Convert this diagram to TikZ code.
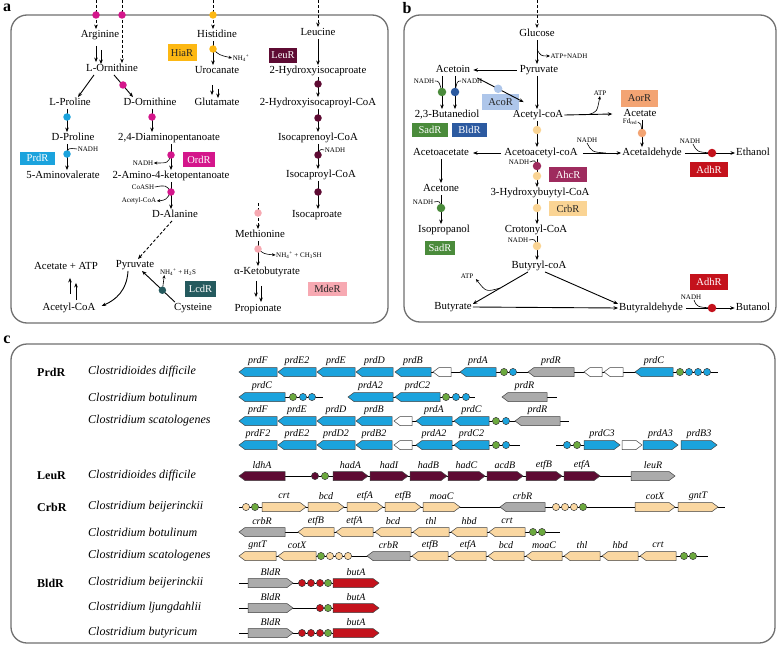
\documentclass[tikz,border=0pt]{standalone}
\usepackage{fontspec}
\setmainfont{Liberation Serif}
\usetikzlibrary{arrows.meta,calc}
\definecolor{cBlue}{HTML}{1BA3DD}
\definecolor{cMag}{HTML}{D4168B}
\definecolor{cYel}{HTML}{FDB813}
\definecolor{cLeu}{HTML}{5E0B33}
\definecolor{cTeal}{HTML}{255A5E}
\definecolor{cPink}{HTML}{F7A9B2}
\definecolor{cAco}{HTML}{AEC6EA}
\definecolor{cSad}{HTML}{4A8B3B}
\definecolor{cBld}{HTML}{2C5AA0}
\definecolor{cAor}{HTML}{F3A473}
\definecolor{cAdh}{HTML}{C4121C}
\definecolor{cAhc}{HTML}{9E2B5E}
\definecolor{cCrb}{HTML}{FAD494}
\definecolor{cGreen}{HTML}{6CA93E}
\definecolor{cGrey}{HTML}{ABABAB}
\definecolor{cTan}{HTML}{FAD7A1}
\definecolor{cPanel}{HTML}{707070}
\tikzset{
 lab/.style={font=\fontsize{10.8}{12}\selectfont, inner sep=1pt, text height=7.5pt, text depth=2pt},
 sml/.style={font=\fontsize{7}{8}\selectfont, inner sep=0.5pt},
 dotn/.style={circle, fill=#1, minimum size=7.5pt, inner sep=0pt},
 dotb/.style={circle, fill=#1, minimum size=8.5pt, inner sep=0pt},
 arr/.style={-{Stealth[length=4.5pt,width=3.6pt]}, line width=0.9pt},
 sarr/.style={-{Stealth[length=3.5pt,width=3pt]}, line width=0.6pt},
 hk/.style={line width=0.6pt},
 dsh/.style={densely dashed},
 regbox/.style={fill=#1, inner sep=0pt, font=\fontsize{10.5}{12}\selectfont, text=white},
 panel/.style={draw=cPanel, line width=1.3pt, rounded corners=16pt},
 plab/.style={font=\fontsize{16}{18}\bfseries\selectfont, inner sep=0pt},
 gene/.style={draw=black!75, line width=0.5pt},
 glab/.style={font=\fontsize{10}{11}\itshape\selectfont, inner sep=0pt},
 spec/.style={font=\fontsize{12}{13}\itshape\selectfont, anchor=west, inner sep=0pt},
 grp/.style={font=\fontsize{12}{13}\bfseries\selectfont, anchor=west, inner sep=0pt},
 bb/.style={line width=0.7pt},
}
\newcount\gcnt
\newcommand{\geneR}[5]{\global\advance\gcnt by 1\relax
  \draw[gene,fill=#4] (#1,#3-4.5) -- ({#2-6},#3-4.5) -- (#2,#3) -- ({#2-6},#3+4.5) -- (#1,#3+4.5) -- cycle;
  \node[glab] (gl\the\gcnt) at ({(#1+#2)/2},#3-11) {#5};}
\newcommand{\geneL}[5]{\global\advance\gcnt by 1\relax
  \draw[gene,fill=#4] (#2,#3-4.5) -- ({#1+6},#3-4.5) -- (#1,#3) -- ({#1+6},#3+4.5) -- (#2,#3+4.5) -- cycle;
  \node[glab] (gl\the\gcnt) at ({(#1+#2)/2},#3-11) {#5};}
\newcommand{\gcirc}[3]{\draw[gene,fill=#3] (#1,#2) circle[radius=3.6pt];}
\begin{document}
\begin{tikzpicture}[x=1pt,y=-1pt]
\useasboundingbox (0,0) rectangle (778,650);
\fill[white] (0,0) rectangle (778,650);
% panels
\draw[panel] (11,15) rectangle (388,323);
\draw[panel] (404,15) rectangle (776,322);
\draw[panel] (11,344) rectangle (775,643);
\node[plab] (la) at (7,8) {a};
\node[plab] (lb) at (407,8) {b};
\node[plab] (lc) at (7,340) {c};

% ================= panel a =================
\node[lab] (arg) at (100,35) {Arginine};
\node[lab] (lorn) at (112,69) {L-Ornithine};
\node[lab] (lpro) at (70,103) {L-Proline};
\node[lab] (dorn) at (150,103) {D-Ornithine};
\node[lab] (dpro) at (73,138) {D-Proline};
\node[lab] (dap) at (169,138) {2,4-Diaminopentanoate};
\node[lab] (amv) at (63,176) {5-Aminovalerate};
\node[lab] (akp) at (171,176) {2-Amino-4-ketopentanoate};
\node[lab] (dala) at (175,215) {D-Alanine};
\node[lab] (pyr) at (135,265) {Pyruvate};
\node[lab] (acatp) at (66,267) {Acetate + ATP};
\node[lab] (acoa) at (69,308) {Acetyl-CoA};
\node[lab] (cys) at (193,308) {Cysteine};
\node[lab] (his) at (217,35) {Histidine};
\node[lab] (uro) at (217,71) {Urocanate};
\node[lab] (glu) at (217,103) {Glutamate};
\node[lab] (leu) at (318,33) {Leucine};
\node[lab] (hic) at (318,71) {2-Hydroxyisocaproate};
\node[lab] (hicoa) at (318,103) {2-Hydroxyisocaproyl-CoA};
\node[lab] (icr) at (318,138) {Isocaprenoyl-CoA};
\node[lab] (ica) at (321,175) {Isocaproyl-CoA};
\node[lab] (icp) at (317,215) {Isocaproate};
\node[lab] (met) at (260,235) {Methionine};
\node[lab] (akb) at (267,272) {α-Ketobutyrate};
\node[lab] (prop) at (258,309) {Propionate};

\node[regbox=cBlue, minimum width=35pt, minimum height=13pt] (rprd) at (37.5,158) {PrdR};
\node[regbox=cMag, minimum width=32pt, minimum height=15pt] (rord) at (199,159.5) {OrdR};
\node[regbox=cYel, minimum width=29pt, minimum height=17pt, text=black!85] (rhia) at (182,53) {HiaR};
\node[regbox=cLeu, minimum width=28pt, minimum height=15pt] (rleu) at (283,55.5) {LeuR};
\node[regbox=cTeal, minimum width=31pt, minimum height=16pt] (rlcd) at (200.5,289) {LcdR};
\node[regbox=cPink, minimum width=39pt, minimum height=14pt, text=black!85] (rmde) at (327.5,289) {MdeR};

\coordinate (ma1) at (96,15);
\coordinate (ma2) at (122,15);
\coordinate (ma3) at (123,85);
\coordinate (ma4) at (152,117);
\coordinate (ma5) at (171,155);
\coordinate (ma6) at (171,192);
\coordinate (cy1) at (67,117);
\coordinate (cy2) at (67,154);
\coordinate (ye1) at (213,15);
\coordinate (ye2) at (213,49);
\coordinate (lu1) at (318,84);
\coordinate (lu2) at (318,118);
\coordinate (lu3) at (318,155);
\coordinate (lu4) at (318,192);
\coordinate (pk1) at (258,213);
\coordinate (pk2) at (258,249);
\coordinate (topA1) at (96,0);
\coordinate (topA2) at (122,0);
\coordinate (topH) at (213,0);
\coordinate (topL) at (318,0);
\coordinate (mtop) at (258,203);

\draw[arr,dsh] (topA1) -- (arg.north -| topA1);
\draw[arr,dsh] (topA2) -- (lorn.north -| topA2);
\coordinate (aa1) at ([xshift=-4pt,yshift=-5pt]arg.south);
\coordinate (aa2) at ([xshift=1pt,yshift=-9pt]arg.south);
\coordinate (ab1) at (aa1 |- lorn.north);
\coordinate (ab2) at (aa2 |- lorn.north);
\draw[arr] (aa1) -- ([yshift=1pt]ab1);
\draw[arr] (aa2) -- ([yshift=-1pt]ab2);
\draw[arr] ([xshift=-18pt]lorn.south) -- ([xshift=8pt]lpro.north);
\draw[arr] ([xshift=2pt]lorn.south) -- ([xshift=-17pt]dorn.north);
\draw[arr] (dorn.south -| ma4) -- (dap.north -| ma4);
\draw[arr] (lpro.south -| cy1) -- (dpro.north -| cy1);
\draw[arr] (dpro.south -| cy2) -- (amv.north -| cy2);
\node[sml] (nadh1) at (88,149) {NADH};
\draw[hk] (cy2) .. controls (68,148) .. (nadh1.west);
\draw[arr] (dap.south -| ma5) -- (akp.north -| ma5);
\node[sml] (nadh2) at (143,163) {NADH};
\draw[sarr] (ma5) .. controls (168,163) .. (nadh2.east);
\draw[arr] (akp.south -| ma6) -- (dala.north -| ma6);
\node[sml] (coash) at (143,187) {CoASH};
\draw[hk] (coash.east) .. controls (166,185) .. (ma6);
\node[sml] (acsm) at (139,201) {Acetyl-CoA};
\draw[sarr] (ma6) .. controls (166,200) .. (acsm.east);
\draw[arr,dsh] ([xshift=-3pt]dala.south) -- ([xshift=3pt]pyr.north);
\draw[arr] ([xshift=-7pt]pyr.south) .. controls (127,290) and (116,300) .. ([xshift=5pt,yshift=2pt]acoa.east);
\draw[arr] ([xshift=1pt,yshift=8pt]acoa.north) -- ([xshift=4pt,yshift=-5pt]acatp.south);
\draw[arr] ([xshift=7pt,yshift=2pt]acoa.north) -- ([xshift=10pt,yshift=-10pt]acatp.south);
\coordinate (cysS) at ([xshift=2pt]cys.north west);
\coordinate (pyrE) at ([xshift=7pt]pyr.south);
\draw[arr] (cysS) -- (pyrE);
\coordinate (tc1) at ($(cysS)!0.38!(pyrE)$);
\node[sml] (nh2s) at (178,272) {NH\textsubscript{4}\textsuperscript{+} + H\textsubscript{2}S};
\draw[sarr] (tc1) .. controls (163,284) .. ([xshift=5pt,yshift=1pt]nh2s.south west);
\draw[arr,dsh] (topH) -- (his.north -| topH);
\draw[arr] (his.south -| ye2) -- (uro.north -| ye2);
\node[sml] (nh4a) at (241,58) {NH\textsubscript{4}\textsuperscript{+}};
\draw[sarr] (ye2) .. controls (219,55) .. (nh4a.west);
\draw[arr] ([xshift=-5pt,yshift=-8pt]uro.south) -- ([xshift=-5pt,yshift=2pt]glu.north);
\draw[arr] ([xshift=1pt,yshift=-12pt]uro.south) -- ([xshift=1pt,yshift=-1pt]glu.north);
\draw[arr,dsh] (topL) -- (leu.north -| topL);
\draw[arr] (leu.south) -- (leu.south |- hic.north);
\draw[arr] (hic.south -| lu1) -- (hicoa.north -| lu1);
\draw[arr] (hicoa.south -| lu2) -- (icr.north -| lu2);
\draw[arr] (icr.south -| lu3) -- (ica.north -| lu3);
\node[sml] (nadh3) at (335,150) {NADH};
\draw[hk] (lu3) .. controls (320,149) .. (nadh3.west);
\draw[arr] (ica.south -| lu4) -- (icp.north -| lu4);
\draw[arr,dsh] (mtop) -- (met.north -| mtop);
\draw[arr] (met.south -| pk2) -- (akb.north -| pk2);
\node[sml] (nhch) at (299,255) {NH\textsubscript{4}\textsuperscript{+} + CH\textsubscript{3}SH};
\draw[sarr] (pk2) .. controls (264,254) .. (nhch.west);
\draw[arr] ([xshift=-11pt,yshift=-3pt]akb.south) -- ([xshift=-2pt,yshift=6pt]prop.north);
\draw[arr] ([xshift=-6pt,yshift=-8pt]akb.south) -- ([xshift=3pt,yshift=1pt]prop.north);

\foreach \p in {ma1,ma2,ma3,ma4,ma5,ma6} \node[dotn=cMag] (d\p) at (\p) {};
\foreach \p in {cy1,cy2} \node[dotn=cBlue] (d\p) at (\p) {};
\foreach \p in {ye1,ye2} \node[dotn=cYel] (d\p) at (\p) {};
\foreach \p in {lu1,lu2,lu3,lu4} \node[dotn=cLeu] (d\p) at (\p) {};
\foreach \p in {pk1,pk2} \node[dotn=cPink] (d\p) at (\p) {};
\node[dotn=cTeal] (dtc1) at (tc1) {};

% ================= panel b =================
\node[lab] (glc) at (537,34) {Glucose};
\node[lab] (pyrb) at (539,70) {Pyruvate};
\node[lab] (acetoin) at (453,70) {Acetoin};
\node[lab] (bd) at (447,115) {2,3-Butanediol};
\node[lab] (accoa) at (538,115) {Acetyl-coA};
\node[lab] (acacoa) at (541,153) {Acetoacetyl-coA};
\node[lab] (acac) at (441,153) {Acetoacetate};
\node[lab] (acetone) at (441,189) {Acetone};
\node[lab] (ipa) at (444,230) {Isopropanol};
\node[lab] (hb) at (540,193) {3-Hydroxybuytyl-CoA};
\node[lab] (crot) at (536,230) {Crotonyl-CoA};
\node[lab] (butcoa) at (539,266) {Butyryl-coA};
\node[lab] (buty) at (453,307) {Butyrate};
\node[lab] (butald) at (651,308) {Butyraldehyde};
\node[lab] (butol) at (753,308) {Butanol};
\node[lab] (acet) at (640,114) {Acetate};
\node[lab] (acald) at (652,153) {Acetaldehyde};
\node[lab] (etoh) at (753,153) {Ethanol};

\node[regbox=cAco, minimum width=37pt, minimum height=16pt, text=black!85] (raco) at (500.5,102) {AcoR};
\node[regbox=cSad, minimum width=36pt, minimum height=14pt] (rsad1) at (430,130) {SadR};
\node[regbox=cBld, minimum width=35pt, minimum height=14pt] (rbld) at (469.5,130) {BldR};
\node[regbox=cSad, minimum width=30pt, minimum height=14pt] (rsad2) at (440,248) {SadR};
\node[regbox=cAhc, minimum width=38pt, minimum height=15pt] (rahc) at (568,174.5) {AhcR};
\node[regbox=cCrb, minimum width=38pt, minimum height=15pt, text=black!85] (rcrb) at (568,208.5) {CrbR};
\node[regbox=cAor, minimum width=37pt, minimum height=17pt, text=black!85] (raor) at (639.5,98.5) {AorR};
\node[regbox=cAdh, minimum width=38pt, minimum height=15pt] (radh1) at (709,169.5) {AdhR};
\node[regbox=cAdh, minimum width=38pt, minimum height=16pt] (radh2) at (709,282) {AdhR};

\coordinate (xb) at (537,0);
\coordinate (topG) at (537,0);
\coordinate (gr1) at (442,92);
\coordinate (bl1) at (455,92);
\coordinate (tn1) at (537,130);
\coordinate (mr1) at (537,166);
\coordinate (tn2) at (537,176);
\coordinate (tn3) at (537,208);
\coordinate (tn4) at (537,246);
\coordinate (gr2) at (441,208);
\coordinate (sa1) at (642,133);
\coordinate (rd1) at (712,153);
\coordinate (rd2) at (712,308);

\draw[arr,dsh] (topG) -- (glc.north -| xb);
\draw[arr] (glc.south -| xb) -- (pyrb.north -| xb);
\node[sml] (atpn) at (569,56) {ATP+NADH};
\draw[sarr] ($(glc.south -| xb)!0.4!(pyrb.north -| xb)$) .. controls (541,56) .. (atpn.west);
\draw[arr] ([xshift=-2pt]pyrb.west) -- ([xshift=2pt]acetoin.east);
\draw[arr] (pyrb.south -| xb) -- (accoa.north -| xb);
\coordinate (acS) at ([xshift=6pt,yshift=-2pt]acetoin.south east);
\coordinate (acE) at ([xshift=12pt,yshift=7pt]accoa.north west);
\draw[arr] (acS) -- (acE);
\coordinate (ab1) at ($(acS)!0.45!(acE)$);
\draw[arr] (acetoin.south -| gr1) -- (bd.north -| gr1);
\draw[arr] (acetoin.south -| bl1) -- (bd.north -| bl1);
\node[sml] (nl) at (424,81) {NADH};
\draw[hk] (nl.east) .. controls (439,81) .. (gr1);
\node[sml] (nr) at (472,81) {NADH};
\draw[hk] (nr.west) .. controls (457,81) .. (bl1);
\draw[arr] (accoa.south -| xb) -- (acacoa.north -| xb);
\draw[arr] ([xshift=-2pt]acacoa.west) -- ([xshift=3pt]acac.east);
\draw[arr] (acac.south) -- (acetone.north);
\draw[arr] (acetone.south -| gr2) -- (ipa.north -| gr2);
\node[sml] (nac1) at (423,202) {NADH};
\draw[hk] (nac1.east) .. controls (440,201) .. (gr2);
\draw[arr] (acacoa.south -| xb) -- (hb.north -| xb);
\node[sml] (nhb) at (519,162) {NADH};
\draw[hk] (nhb.east) .. controls (535,160) .. (mr1);
\draw[arr] (hb.south -| xb) -- (crot.north -| xb);
\draw[arr] (crot.south -| xb) -- (butcoa.north -| xb);
\node[sml] (ncr) at (518,240) {NADH};
\draw[hk] (ncr.east) .. controls (535,239) .. (tn4);
\coordinate (bS) at ([xshift=-11pt]butcoa.south);
\coordinate (bE) at ([yshift=3pt]buty.east);
\draw[arr] (bS) -- (bE);
\node[sml] (atpb) at (467,276) {ATP};
\draw[sarr] ($(bS)!0.5!(bE)$) .. controls (486,292) .. ([xshift=2pt]atpb.south east);
\draw[arr] (buty.east) -- (butald.west);
\draw[arr] ([xshift=6pt]butcoa.south) -- ([yshift=4pt]butald.west);
\draw[arr] ([xshift=2pt]butald.east) -- (butol.west);
\node[sml] (nbu) at (691,297) {NADH};
\draw[hk] ([xshift=3pt]nbu.south) .. controls (697,307) .. (rd2);
\draw[arr] (accoa.east) -- ([xshift=-10pt]acet.west);
\node[sml] (atpc) at (600,93) {ATP};
\draw[sarr] ($(accoa.east)!0.5!([xshift=-10pt]acet.west)$) .. controls (597,112) .. (atpc.south);
\draw[arr] (acet.south -| sa1) -- (acald.north -| sa1);
\node[sml] (fdr) at (630,122) {Fd\textsubscript{red}};
\draw[hk] (fdr.east) .. controls (641,123) .. (sa1);
\coordinate (aaS) at ([xshift=4pt]acacoa.east);
\draw[arr] (aaS) -- (acald.west);
\coordinate (aaM) at ($(aaS)!0.6!(acald.west)$);
\node[sml] (nac) at (587,140) {NADH};
\draw[hk] (nac.south) .. controls (592,152) .. (aaM);
\draw[arr] ([xshift=2pt]acald.east) -- (etoh.west);
\node[sml] (net) at (690,141) {NADH};
\draw[hk] ([xshift=3pt]net.south) .. controls (697,152) .. (rd1);

\node[dotb=cAco] (dab1) at (ab1) {};
\node[dotb=cSad] (dgr1) at (gr1) {};
\node[dotb=cBld] (dbl1) at (bl1) {};
\node[dotb=cSad] (dgr2) at (gr2) {};
\node[dotb=cCrb] (dtn1) at (tn1) {};
\node[dotb=cCrb] (dtn2) at (tn2) {};
\node[dotb=cAhc] (dmr1) at (mr1) {};
\node[dotb=cCrb] (dtn3) at (tn3) {};
\node[dotb=cCrb] (dtn4) at (tn4) {};
\node[dotb=cAor] (dsa1) at (sa1) {};
\node[dotb=cAdh] (drd1) at (rd1) {};
\node[dotb=cAdh] (drd2) at (rd2) {};

% ================= panel c =================
\node[grp] (gprd) at (37,372) {PrdR};
\node[grp] (gleu) at (37,476) {LeuR};
\node[grp] (gcrb) at (37,507) {CrbR};
\node[grp] (gbld) at (37,583) {BldR};
\node[spec] (s1) at (88,372) {Clostridioides difficile};
\node[spec] (s2) at (88,397) {Clostridium botulinum};
\node[spec] (s3) at (88,421) {Clostridium scatologenes};
\node[spec] (s4) at (88,476) {Clostridioides difficile};
\node[spec] (s5) at (88,507) {Clostridium beijerinckii};
\node[spec] (s6) at (88,532) {Clostridium botulinum};
\node[spec] (s7) at (88,556) {Clostridium scatologenes};
\node[spec] (s8) at (88,583) {Clostridium beijerinckii};
\node[spec] (s9) at (88,608) {Clostridium ljungdahlii};
\node[spec] (s10) at (88,633) {Clostridium butyricum};

% PrdR row 1
\draw[bb] (430,372) -- (718,372);
\geneL{239}{277}{372}{cBlue}{prdF}
\geneL{278}{316}{372}{cBlue}{prdE2}
\geneL{317}{355}{372}{cBlue}{prdE}
\geneL{356}{393}{372}{cBlue}{prdD}
\geneL{395}{431}{372}{cBlue}{prdB}
\geneL{433}{451}{372}{white}{}
\geneL{460}{496}{372}{cBlue}{prdA}
\gcirc{504}{372}{cGreen}\gcirc{513}{372}{cBlue}
\geneL{528}{574}{372}{cGrey}{prdR}
\geneL{584}{602}{372}{white}{}
\geneL{604}{623}{372}{white}{}
\geneL{635}{673}{372}{cBlue}{prdC}
\gcirc{680}{372}{cGreen}\gcirc{689}{372}{cBlue}\gcirc{698}{372}{cBlue}\gcirc{707}{372}{cBlue}
% PrdR row 2
\draw[bb] (260,397) -- (323,397);
\geneL{239}{285}{397}{cBlue}{prdC}
\gcirc{293}{397}{cGreen}\gcirc{303}{397}{cBlue}\gcirc{312}{397}{cBlue}
\draw[bb] (370,397) -- (475,397);
\geneL{348}{393}{397}{cBlue}{prdA2}
\geneL{395}{440}{397}{cBlue}{prdC2}
\gcirc{446}{397}{cGreen}\gcirc{456}{397}{cBlue}\gcirc{466}{397}{cBlue}
\draw[bb] (520,397) -- (557,397);
\geneL{502}{547}{397}{cGrey}{prdR}
% PrdR row 3
\draw[bb] (400,421) -- (569,421);
\geneL{239}{277}{421}{cBlue}{prdF}
\geneL{278}{316}{421}{cBlue}{prdE}
\geneL{317}{355}{421}{cBlue}{prdD}
\geneL{356}{392}{421}{cBlue}{prdB}
\geneL{394}{412}{421}{white}{}
\geneL{416}{452}{421}{cBlue}{prdA}
\geneL{454}{489}{421}{cBlue}{prdC}
\gcirc{496}{421}{cGreen}\gcirc{506}{421}{cBlue}
\geneL{515}{560}{421}{cGrey}{prdR}
% PrdR row 4
\draw[bb] (400,445) -- (520,445);
\geneL{239}{277}{445}{cBlue}{prdF2}
\geneL{278}{316}{445}{cBlue}{prdE2}
\geneL{317}{355}{445}{cBlue}{prdD2}
\geneL{356}{392}{445}{cBlue}{prdB2}
\geneL{394}{412}{445}{white}{}
\geneL{416}{452}{445}{cBlue}{prdA2}
\geneL{454}{489}{445}{cBlue}{prdC2}
\gcirc{496}{445}{cGreen}\gcirc{506}{445}{cBlue}
\draw[bb] (556,445) -- (590,445);
\gcirc{567}{445}{cBlue}\gcirc{577}{445}{cGreen}
\geneR{584}{620}{445}{cBlue}{prdC3}
\geneR{622}{642}{445}{white}{}
\geneR{643}{678}{445}{cBlue}{prdA3}
\geneR{681}{717}{445}{cBlue}{prdB3}
% LeuR
\draw[bb] (260,476) -- (640,476);
\geneL{239}{285}{476}{cLeu}{ldhA}
\gcirc{315}{476}{cLeu}\gcirc{325}{476}{cGreen}
\geneR{333}{368}{476}{cLeu}{hadA}
\geneR{370}{408}{476}{cLeu}{hadI}
\geneR{410}{447}{476}{cLeu}{hadB}
\geneR{448}{485}{476}{cLeu}{hadC}
\geneR{487}{523}{476}{cLeu}{acdB}
\geneR{526}{562}{476}{cLeu}{etfB}
\geneR{564}{600}{476}{cLeu}{etfA}
\geneR{631}{675}{476}{cGrey}{leuR}
% CrbR row 1
\draw[bb] (239,507) -- (725,507);
\gcirc{246}{507}{cTan}\gcirc{255}{507}{cGreen}
\geneR{262}{306}{507}{cTan}{crt}
\geneR{308}{344}{507}{cTan}{bcd}
\geneR{347}{383}{507}{cTan}{etfA}
\geneR{385}{421}{507}{cTan}{etfB}
\geneR{423}{460}{507}{cTan}{moaC}
\geneL{500}{545}{507}{cGrey}{crbR}
\gcirc{556}{507}{cTan}\gcirc{565}{507}{cTan}\gcirc{574}{507}{cTan}\gcirc{583}{507}{cGreen}
\geneR{635}{675}{507}{cTan}{cotX}
\geneR{678}{718}{507}{cTan}{gntT}
% CrbR row 2
\draw[bb] (260,532) -- (560,532);
\geneL{239}{285}{532}{cGrey}{crbR}
\geneL{298}{334}{532}{cTan}{etfB}
\geneL{336}{373}{532}{cTan}{etfA}
\geneL{375}{411}{532}{cTan}{bcd}
\geneL{413}{449}{532}{cTan}{thl}
\geneL{451}{487}{532}{cTan}{hbd}
\geneL{489}{525}{532}{cTan}{crt}
\gcirc{533}{532}{cGreen}\gcirc{542}{532}{cGreen}
% CrbR row 3
\draw[bb] (260,556) -- (708,556);
\geneL{239}{276}{556}{cTan}{gntT}
\geneL{278}{316}{556}{cTan}{cotX}
\gcirc{321}{556}{cGreen}\gcirc{330}{556}{cTan}\gcirc{339}{556}{cTan}\gcirc{348}{556}{cTan}
\geneL{367}{410}{556}{cGrey}{crbR}
\geneL{412}{448}{556}{cTan}{etfB}
\geneL{450}{486}{556}{cTan}{etfA}
\geneL{488}{524}{556}{cTan}{bcd}
\geneL{526}{562}{556}{cTan}{moaC}
\geneL{564}{600}{556}{cTan}{thl}
\geneL{602}{638}{556}{cTan}{hbd}
\geneL{640}{676}{556}{cTan}{crt}
\gcirc{684}{556}{cGreen}\gcirc{693}{556}{cGreen}
% BldR rows
\draw[bb] (239,583) -- (335,583);
\geneR{248}{293}{583}{cGrey}{BldR}
\gcirc{302}{583}{cAdh}\gcirc{311}{583}{cAdh}\gcirc{320}{583}{cAdh}\gcirc{328}{583}{cGreen}
\geneR{333}{379}{583}{cAdh}{butA}
\draw[bb] (239,608) -- (335,608);
\geneR{248}{293}{608}{cGrey}{BldR}
\gcirc{320}{608}{cAdh}\gcirc{328}{608}{cGreen}
\geneR{333}{379}{608}{cAdh}{butA}
\draw[bb] (239,633) -- (335,633);
\geneR{248}{293}{633}{cGrey}{BldR}
\gcirc{302}{633}{cAdh}\gcirc{311}{633}{cAdh}\gcirc{320}{633}{cAdh}\gcirc{328}{633}{cGreen}
\geneR{333}{379}{633}{cAdh}{butA}
\end{tikzpicture}
\end{document}
